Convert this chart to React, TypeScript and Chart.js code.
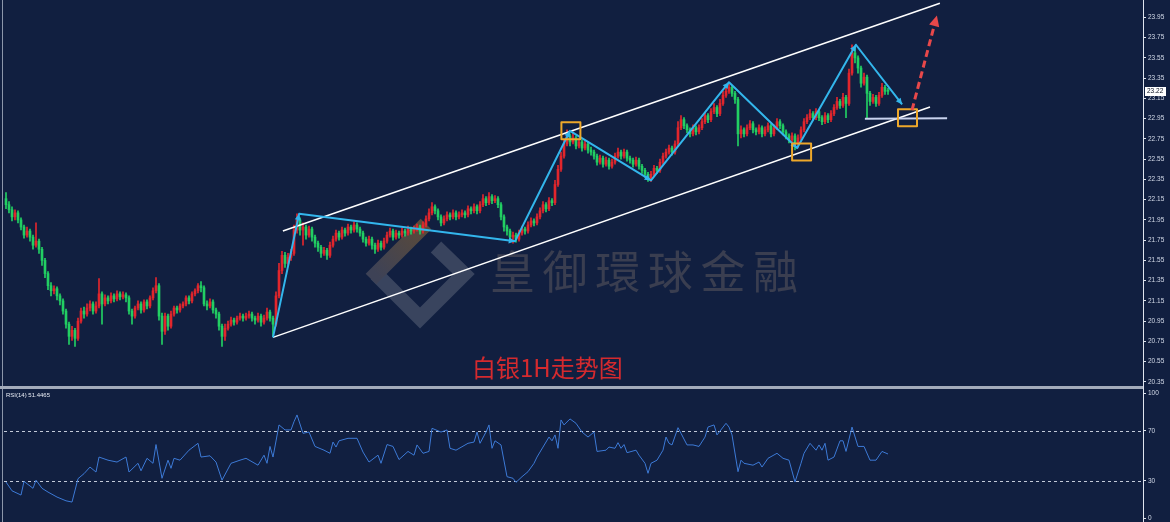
import React, { useEffect, useRef } from 'react';
import { Chart, registerables } from 'chart.js';
Chart.register(...registerables);

// ---------- data ----------
const opens = [
  22.16, 22.10, 22.05, 21.98, 22.02, 21.95, 21.88, 21.80, 21.84, 21.78,
  21.70, 21.74, 21.66, 21.55, 21.42, 21.30, 21.25, 21.27, 21.20, 21.15,
  21.05, 20.92, 20.80, 20.86, 20.78, 20.95, 21.05, 21.02, 21.08, 21.12,
  21.05, 21.10, 21.22, 21.12, 21.18, 21.15, 21.20, 21.17, 21.22, 21.19,
  21.21, 21.18, 21.05, 21.00, 21.08, 21.12, 21.06, 21.14, 21.10, 21.18,
  21.25, 21.30, 21.00, 20.85, 21.00, 20.90, 21.02, 21.08, 21.06, 21.10,
  21.12, 21.18, 21.15, 21.22, 21.25, 21.30, 21.28, 21.12, 21.10, 21.14,
  21.06, 21.02, 20.90, 20.80, 20.88, 20.92, 20.96, 20.94, 20.98, 21.00,
  20.98, 21.00, 21.02, 20.98, 20.96, 21.00, 20.94, 20.98, 21.04, 20.98,
  20.92, 21.20, 21.45, 21.60, 21.52, 21.58, 21.62, 21.85, 21.95, 21.85,
  21.88, 21.80, 21.86, 21.78, 21.72, 21.68, 21.62, 21.65, 21.60, 21.70,
  21.76, 21.82, 21.78, 21.85, 21.82, 21.88, 21.85, 21.90, 21.86, 21.82,
  21.76, 21.72, 21.76, 21.70, 21.66, 21.72, 21.68, 21.74, 21.80, 21.84,
  21.78, 21.82, 21.80, 21.84, 21.82, 21.86, 21.84, 21.86, 21.88, 21.84,
  21.90, 21.96, 22.02, 22.08, 22.04, 21.98, 21.92, 21.96, 22.00, 21.98,
  22.02, 21.98, 22.00, 22.02, 22.00, 22.06, 22.04, 22.08, 22.04, 22.10,
  22.16, 22.12, 22.18, 22.14, 22.16, 22.10, 21.98, 21.88, 21.84, 21.78,
  21.80, 21.76, 21.82, 21.86, 21.84, 21.90, 21.94, 21.92, 21.98, 22.04,
  22.10, 22.06, 22.14, 22.12, 22.30, 22.45, 22.58, 22.70, 22.78, 22.72,
  22.76, 22.68, 22.72, 22.66, 22.70, 22.64, 22.62, 22.58, 22.52, 22.56,
  22.50, 22.54, 22.48, 22.52, 22.58, 22.62, 22.58, 22.62, 22.56, 22.54,
  22.50, 22.54, 22.48, 22.44, 22.40, 22.36, 22.40, 22.46, 22.44, 22.52,
  22.58, 22.62, 22.66, 22.62, 22.70, 22.86, 22.94, 22.88, 22.84, 22.80,
  22.86, 22.82, 22.86, 22.92, 22.98, 22.94, 23.02, 23.06, 23.00, 23.10,
  23.18, 23.22, 23.26, 23.20, 23.14, 22.80, 22.84, 22.80, 22.86, 22.90,
  22.84, 22.82, 22.86, 22.80, 22.84, 22.88, 22.80, 22.86, 22.92, 22.88,
  22.82, 22.78, 22.74, 22.78, 22.70, 22.76, 22.84, 22.92, 22.96, 23.00,
  22.96, 23.02, 22.96, 22.92, 22.98, 22.94, 23.00, 23.06, 23.12, 23.08,
  23.16, 23.10, 23.40, 23.60, 23.55, 23.45, 23.30, 23.36, 23.20, 23.12,
  23.16, 23.10, 23.18, 23.26, 23.22,
];
const closes = [
  22.10, 22.05, 21.98, 22.02, 21.95, 21.88, 21.80, 21.84, 21.78, 21.70,
  21.74, 21.66, 21.55, 21.42, 21.30, 21.25, 21.27, 21.20, 21.15, 21.05,
  20.92, 20.80, 20.86, 20.78, 20.95, 21.05, 21.02, 21.08, 21.12, 21.05,
  21.10, 21.22, 21.12, 21.18, 21.15, 21.20, 21.17, 21.22, 21.19, 21.21,
  21.18, 21.05, 21.00, 21.08, 21.12, 21.06, 21.14, 21.10, 21.18, 21.25,
  21.30, 21.00, 20.85, 21.00, 20.90, 21.02, 21.08, 21.06, 21.10, 21.12,
  21.18, 21.15, 21.22, 21.25, 21.30, 21.28, 21.12, 21.10, 21.14, 21.06,
  21.02, 20.90, 20.80, 20.88, 20.92, 20.96, 20.94, 20.98, 21.00, 20.98,
  21.00, 21.02, 20.98, 20.96, 21.00, 20.94, 20.98, 21.04, 20.98, 20.92,
  21.20, 21.45, 21.60, 21.52, 21.58, 21.62, 21.85, 21.95, 21.85, 21.88,
  21.80, 21.86, 21.78, 21.72, 21.68, 21.62, 21.65, 21.60, 21.70, 21.76,
  21.82, 21.78, 21.85, 21.82, 21.88, 21.85, 21.90, 21.86, 21.82, 21.76,
  21.72, 21.76, 21.70, 21.66, 21.72, 21.68, 21.74, 21.80, 21.84, 21.78,
  21.82, 21.80, 21.84, 21.82, 21.86, 21.84, 21.86, 21.88, 21.84, 21.90,
  21.96, 22.02, 22.08, 22.04, 21.98, 21.92, 21.96, 22.00, 21.98, 22.02,
  21.98, 22.00, 22.02, 22.00, 22.06, 22.04, 22.08, 22.04, 22.10, 22.16,
  22.12, 22.18, 22.14, 22.16, 22.10, 21.98, 21.88, 21.84, 21.78, 21.80,
  21.76, 21.82, 21.86, 21.84, 21.90, 21.94, 21.92, 21.98, 22.04, 22.10,
  22.06, 22.14, 22.12, 22.30, 22.45, 22.58, 22.70, 22.78, 22.72, 22.76,
  22.68, 22.72, 22.66, 22.70, 22.64, 22.62, 22.58, 22.52, 22.56, 22.50,
  22.54, 22.48, 22.52, 22.58, 22.62, 22.58, 22.62, 22.56, 22.54, 22.50,
  22.54, 22.48, 22.44, 22.40, 22.36, 22.40, 22.46, 22.44, 22.52, 22.58,
  22.62, 22.66, 22.62, 22.70, 22.86, 22.94, 22.88, 22.84, 22.80, 22.86,
  22.82, 22.86, 22.92, 22.98, 22.94, 23.02, 23.06, 23.00, 23.10, 23.18,
  23.22, 23.26, 23.20, 23.14, 22.80, 22.84, 22.80, 22.86, 22.90, 22.84,
  22.82, 22.86, 22.80, 22.84, 22.88, 22.80, 22.86, 22.92, 22.88, 22.82,
  22.78, 22.74, 22.78, 22.70, 22.76, 22.84, 22.92, 22.96, 23.00, 22.96,
  23.02, 22.96, 22.92, 22.98, 22.94, 23.00, 23.06, 23.12, 23.08, 23.16,
  23.10, 23.40, 23.60, 23.55, 23.45, 23.30, 23.36, 23.20, 23.12, 23.16,
  23.10, 23.18, 23.26, 23.22, 23.22,
];
const highs = [
  22.22, 22.13, 22.08, 22.05, 22.04, 21.97, 21.90, 21.88, 21.86, 21.80,
  21.92, 21.76, 21.68, 21.57, 21.44, 21.33, 21.30, 21.29, 21.22, 21.17,
  21.07, 20.94, 20.90, 20.88, 20.98, 21.08, 21.09, 21.12, 21.15, 21.14,
  21.14, 21.37, 21.24, 21.21, 21.20, 21.23, 21.22, 21.25, 21.24, 21.24,
  21.23, 21.20, 21.07, 21.10, 21.15, 21.14, 21.16, 21.16, 21.20, 21.28,
  21.38, 21.32, 21.03, 21.03, 21.02, 21.05, 21.10, 21.10, 21.12, 21.14,
  21.20, 21.20, 21.24, 21.27, 21.32, 21.34, 21.30, 21.15, 21.17, 21.16,
  21.08, 21.04, 20.92, 20.92, 20.95, 20.99, 20.98, 21.00, 21.03, 21.02,
  21.03, 21.05, 21.04, 21.00, 21.03, 21.02, 21.01, 21.08, 21.06, 21.00,
  21.24, 21.52, 21.64, 21.63, 21.62, 21.66, 21.90, 22.01, 21.97, 21.92,
  21.90, 21.89, 21.88, 21.80, 21.74, 21.70, 21.68, 21.67, 21.73, 21.79,
  21.85, 21.84, 21.88, 21.87, 21.91, 21.90, 21.93, 21.92, 21.88, 21.84,
  21.78, 21.79, 21.78, 21.72, 21.75, 21.74, 21.77, 21.83, 21.87, 21.86,
  21.85, 21.84, 21.87, 21.86, 21.89, 21.88, 21.89, 21.91, 21.90, 21.93,
  21.99, 22.06, 22.12, 22.10, 22.06, 22.00, 21.99, 22.03, 22.02, 22.05,
  22.04, 22.03, 22.05, 22.04, 22.09, 22.08, 22.11, 22.10, 22.13, 22.20,
  22.18, 22.22, 22.20, 22.19, 22.18, 22.12, 22.00, 21.90, 21.86, 21.83,
  21.82, 21.85, 21.89, 21.88, 21.93, 21.97, 21.96, 22.01, 22.07, 22.13,
  22.12, 22.17, 22.16, 22.34, 22.49, 22.62, 22.74, 22.84, 22.80, 22.82,
  22.78, 22.75, 22.74, 22.73, 22.72, 22.67, 22.64, 22.60, 22.59, 22.58,
  22.57, 22.56, 22.55, 22.61, 22.66, 22.64, 22.65, 22.64, 22.58, 22.56,
  22.57, 22.56, 22.50, 22.46, 22.42, 22.43, 22.49, 22.48, 22.55, 22.61,
  22.65, 22.69, 22.68, 22.73, 22.92, 22.98, 22.96, 22.90, 22.86, 22.89,
  22.88, 22.89, 22.95, 23.01, 23.00, 23.05, 23.10, 23.08, 23.14, 23.22,
  23.26, 23.31, 23.28, 23.22, 23.16, 22.88, 22.86, 22.89, 22.93, 22.92,
  22.86, 22.89, 22.88, 22.87, 22.91, 22.90, 22.89, 22.95, 22.94, 22.90,
  22.84, 22.80, 22.81, 22.80, 22.79, 22.87, 22.95, 22.99, 23.04, 23.02,
  23.05, 23.04, 22.98, 23.01, 23.00, 23.03, 23.09, 23.16, 23.14, 23.20,
  23.18, 23.44, 23.68, 23.66, 23.57, 23.47, 23.40, 23.38, 23.22, 23.19,
  23.18, 23.21, 23.30, 23.28, 23.25,
];
const lows = [
  22.06, 22.02, 21.94, 21.95, 21.92, 21.85, 21.77, 21.78, 21.74, 21.66,
  21.68, 21.62, 21.50, 21.38, 21.26, 21.20, 21.22, 21.16, 21.11, 21.02,
  20.88, 20.72, 20.76, 20.70, 20.76, 20.93, 20.98, 21.00, 21.05, 21.02,
  21.03, 21.08, 20.92, 21.10, 21.12, 21.13, 21.14, 21.15, 21.16, 21.17,
  21.14, 21.02, 20.92, 20.98, 21.06, 21.03, 21.04, 21.07, 21.08, 21.16,
  21.23, 20.96, 20.72, 20.82, 20.86, 20.88, 21.00, 21.03, 21.04, 21.08,
  21.10, 21.12, 21.13, 21.20, 21.23, 21.24, 21.10, 21.06, 21.08, 21.03,
  20.98, 20.86, 20.70, 20.76, 20.86, 20.90, 20.91, 20.92, 20.96, 20.95,
  20.96, 20.98, 20.95, 20.92, 20.94, 20.90, 20.92, 20.96, 20.95, 20.80,
  20.90, 21.18, 21.42, 21.48, 21.50, 21.55, 21.60, 21.82, 21.80, 21.70,
  21.76, 21.78, 21.74, 21.68, 21.64, 21.58, 21.60, 21.56, 21.58, 21.68,
  21.74, 21.75, 21.76, 21.79, 21.80, 21.82, 21.83, 21.83, 21.79, 21.73,
  21.69, 21.70, 21.66, 21.62, 21.64, 21.65, 21.66, 21.72, 21.78, 21.75,
  21.76, 21.77, 21.78, 21.79, 21.80, 21.81, 21.82, 21.84, 21.81, 21.82,
  21.88, 21.94, 22.00, 22.01, 21.95, 21.89, 21.90, 21.94, 21.95, 21.96,
  21.95, 21.96, 21.98, 21.97, 21.98, 22.01, 22.02, 22.01, 22.02, 22.08,
  22.09, 22.10, 22.11, 22.12, 22.07, 21.95, 21.84, 21.80, 21.74, 21.72,
  21.73, 21.74, 21.80, 21.81, 21.82, 21.88, 21.89, 21.90, 21.96, 22.02,
  22.03, 22.04, 22.09, 22.10, 22.28, 22.43, 22.56, 22.68, 22.68, 22.70,
  22.65, 22.66, 22.63, 22.64, 22.61, 22.59, 22.55, 22.49, 22.50, 22.47,
  22.48, 22.45, 22.46, 22.50, 22.56, 22.55, 22.56, 22.53, 22.51, 22.47,
  22.48, 22.45, 22.41, 22.37, 22.33, 22.33, 22.38, 22.41, 22.42, 22.50,
  22.56, 22.60, 22.59, 22.60, 22.68, 22.84, 22.85, 22.81, 22.77, 22.78,
  22.79, 22.80, 22.84, 22.90, 22.91, 22.92, 23.00, 22.97, 22.98, 23.08,
  23.16, 23.20, 23.17, 23.10, 22.68, 22.76, 22.77, 22.78, 22.84, 22.81,
  22.79, 22.80, 22.77, 22.78, 22.82, 22.77, 22.78, 22.84, 22.85, 22.79,
  22.75, 22.71, 22.72, 22.64, 22.66, 22.74, 22.82, 22.90, 22.94, 22.93,
  22.94, 22.93, 22.89, 22.90, 22.91, 22.92, 22.98, 23.04, 23.05, 23.06,
  22.96, 23.08, 23.38, 23.50, 23.40, 23.26, 23.28, 22.95, 23.08, 23.10,
  23.07, 23.08, 23.16, 23.19, 23.19,
];

const rsiIndex = [
  0, 2, 5, 6, 9, 10, 12, 14, 17, 20,
  22, 24, 26, 28, 30, 31, 34, 37, 40, 41,
  44, 45, 47, 49, 50, 52, 54, 55, 56, 58,
  61, 64, 65, 68, 70, 72, 75, 78, 80, 84,
  86, 87, 88, 89, 91, 93, 95, 96, 97, 99,
  101, 103, 106, 108, 109, 110, 111, 114, 117, 119,
  121, 124, 125, 127, 129, 131, 134, 136, 137, 139,
  141, 142, 145, 147, 148, 150, 154, 156, 157, 158,
  160, 161, 162, 163, 165, 167, 169, 170, 172, 174,
  176, 177, 179, 181, 182, 183, 184, 185, 186, 188,
  190, 192, 194, 196, 197, 200, 201, 203, 204, 205,
  206, 207, 210, 211, 213, 214, 215, 217, 219, 220,
  221, 222, 224, 225, 227, 229, 231, 233, 234, 236,
  237, 240, 241, 242, 244, 245, 246, 249, 251, 252,
  254, 257, 259, 261, 263, 265, 266, 268, 270, 271,
  272, 273, 274, 276, 278, 279, 280, 282, 284, 286,
  288, 290, 292, 294,
];
const rsiValues = [
  29, 22, 18.6, 29.5, 24, 30.5, 24, 21, 17, 14,
  13, 31.7, 35.7, 41, 37, 49, 46.5, 45, 49, 37,
  44, 38, 48, 44, 59, 32, 46.5, 40, 48, 46.5,
  54.5, 60, 49, 50, 45, 30.5, 44, 46.5, 48, 42.5,
  50.5, 44, 57.5, 49, 74.7, 70.7, 70.7, 77.3, 82.7, 68,
  69, 57.5, 54.5, 52, 61, 57, 62, 64, 64, 53,
  45, 50.5, 44, 59, 57.5, 47, 53.5, 50.5, 58.7, 52,
  53.5, 72, 69, 70.7, 56, 54.5, 60, 61, 69, 60,
  69, 74.7, 56, 62, 58.7, 33.3, 32, 28.8, 33.3, 37.3,
  44, 49, 57, 65, 62, 66.7, 56, 78.7, 74.7, 79.5,
  76, 69, 65, 69, 53.5, 54.5, 57, 56, 60.5, 56,
  59, 52.5, 54.5, 50.5, 44, 36, 44, 46.5, 54.5, 65,
  60, 58.7, 72.5, 68, 58.7, 58.7, 57.5, 65, 73, 74.7,
  66.7, 76, 73, 66.7, 37.3, 46.5, 44, 42.5, 45, 41,
  48, 52, 48, 46.5, 29, 44, 52, 60, 54.5, 58.7,
  54.5, 60, 46.5, 49, 62, 62, 53.5, 73, 57.5, 57.5,
  46.5, 46.5, 53.5, 51.4465,
];

const priceTicks = [20.35, 20.55, 20.75, 20.95, 21.15, 21.35, 21.55, 21.75, 21.95, 22.15,
  22.35, 22.55, 22.75, 22.95, 23.15, 23.35, 23.55, 23.75, 23.95];
const rsiTicks = [0, 30, 70, 100];
const rsiLevels = [30, 70];

// annotation anchors in (candle index, price)
const channelUpper = [[92.3, 21.84], [311.3, 24.09]];
const channelLower = [[89, 20.79], [308, 23.065]];
const waveLine = [[89, 20.79], [97.7, 22.01], [169.7, 21.74], [188, 22.83], [215, 22.34],
  [241, 23.31], [263.7, 22.66], [283.3, 23.68], [298.7, 23.09]];
const markerBoxes = [[188.3, 22.83], [265.2, 22.62], [300.5, 22.96]];
const supportLine = [[286.3, 22.95], [313.7, 22.955]];
const breakoutArrow = [[302, 23.035], [310.3, 23.97]];

const titleText = '白银1H走势图';
const watermarkText = '皇御環球金融';

// ---------- styles ----------
const BG = '#111f40';
const UP = '#e2262c';
const DOWN = '#22cf63';
const AXIS = '#dfe4ee';
const LABEL = '#d3dae8';
const X_MIN = -2;
const X_MAX = 379;
const P_MIN = 20.3096;
const P_MAX = 24.1219;
const R_MIN = -2.96;
const R_MAX = 103.44;

function arrowHead(ctx: CanvasRenderingContext2D, x1: number, y1: number, x2: number, y2: number, size: number, color: string) {
  const a = Math.atan2(y2 - y1, x2 - x1);
  ctx.beginPath();
  ctx.moveTo(x2, y2);
  ctx.lineTo(x2 - size * Math.cos(a - 0.45), y2 - size * Math.sin(a - 0.45));
  ctx.lineTo(x2 - size * Math.cos(a + 0.45), y2 - size * Math.sin(a + 0.45));
  ctx.closePath();
  ctx.fillStyle = color;
  ctx.fill();
}

const candleColor = (ctx: any) => {
  const i = ctx.dataIndex;
  return closes[i] > opens[i] ? UP : DOWN;
};

const axisY = (min: number, max: number, ticks: number[], digits: number) => ({
  position: 'right' as const,
  min,
  max,
  afterBuildTicks: (s: any) => { s.ticks = ticks.map((v) => ({ value: v })); },
  afterFit: (s: any) => { s.width = 27; s.paddingTop = 0; s.paddingBottom = 0; },
  grid: { drawOnChartArea: false, color: AXIS, tickLength: 3 },
  border: { color: AXIS, width: 1 },
  ticks: {
    color: LABEL,
    font: { size: 6.5, family: 'Liberation Sans' },
    padding: 2,
    autoSkip: false,
    maxRotation: 0,
    callback: (v: any) => Number(v).toFixed(digits),
  },
});

const mainDecor = {
  id: 'mainDecor',
  beforeDatasetsDraw(chart: any) {
    const ctx = chart.ctx as CanvasRenderingContext2D;
    ctx.save();
    // watermark logo
    ctx.lineWidth = 15;
    ctx.lineJoin = 'miter';
    ctx.lineCap = 'butt';
    ctx.strokeStyle = '#39445e';
    ctx.beginPath();
    ctx.moveTo(376, 274); ctx.lineTo(420, 318); ctx.lineTo(464, 274); ctx.lineTo(436, 247);
    ctx.stroke();
    const g = ctx.createLinearGradient(376, 274, 426, 224);
    g.addColorStop(0, '#3e4256');
    g.addColorStop(1, '#5b4a38');
    ctx.strokeStyle = g;
    ctx.beginPath();
    ctx.moveTo(371, 279); ctx.lineTo(426, 224);
    ctx.stroke();
    // watermark text
    ctx.font = '45px "Noto Sans CJK TC"';
    ctx.fillStyle = '#3a3e50';
    ctx.textBaseline = 'middle';
    ctx.textAlign = 'left';
    Array.from(watermarkText).forEach((ch, k) => ctx.fillText(ch, 490 + 52.6 * k, 272));
    // left frame
    ctx.fillStyle = '#8c96aa';
    ctx.fillRect(2, 0, 1, chart.height);
    ctx.restore();
  },
  afterDatasetsDraw(chart: any) {
    const ctx = chart.ctx as CanvasRenderingContext2D;
    const xs = chart.scales.x, ys = chart.scales.y;
    const P = (p: number[]) => [xs.getPixelForValue(p[0]), ys.getPixelForValue(p[1])];
    ctx.save();
    // channel
    ctx.strokeStyle = '#ffffff';
    ctx.lineWidth = 1.5;
    [channelUpper, channelLower].forEach((ln) => {
      const a = P(ln[0]), b = P(ln[1]);
      ctx.beginPath(); ctx.moveTo(a[0], a[1]); ctx.lineTo(b[0], b[1]); ctx.stroke();
    });
    // support line
    {
      const a = P(supportLine[0]), b = P(supportLine[1]);
      ctx.strokeStyle = '#c9d3ee';
      ctx.lineWidth = 2;
      ctx.beginPath(); ctx.moveTo(a[0], a[1]); ctx.lineTo(b[0], b[1]); ctx.stroke();
    }
    // wave line
    const BLUE = '#33b6ec';
    ctx.strokeStyle = BLUE;
    ctx.lineWidth = 2;
    ctx.lineJoin = 'round';
    const pts = waveLine.map(P);
    ctx.beginPath();
    pts.forEach((p, k) => (k ? ctx.lineTo(p[0], p[1]) : ctx.moveTo(p[0], p[1])));
    ctx.stroke();
    for (let k = 1; k < pts.length; k++) {
      arrowHead(ctx, pts[k - 1][0], pts[k - 1][1], pts[k][0], pts[k][1], 7, BLUE);
    }
    // boxes
    ctx.strokeStyle = '#eea82a';
    ctx.lineWidth = 2;
    markerBoxes.forEach((m) => {
      const c = P(m);
      ctx.strokeRect(c[0] - 9.5, c[1] - 8.5, 19, 17);
    });
    // breakout arrow
    {
      const a = P(breakoutArrow[0]), b = P(breakoutArrow[1]);
      const ang = Math.atan2(b[1] - a[1], b[0] - a[0]);
      const stopX = b[0] - 9 * Math.cos(ang), stopY = b[1] - 9 * Math.sin(ang);
      ctx.strokeStyle = '#e8484a';
      ctx.lineWidth = 3;
      ctx.setLineDash([7, 4]);
      ctx.beginPath(); ctx.moveTo(a[0], a[1]); ctx.lineTo(stopX, stopY); ctx.stroke();
      ctx.setLineDash([]);
      arrowHead(ctx, a[0], a[1], b[0], b[1], 12, '#e8484a');
    }
    // title
    ctx.font = '24px "Noto Sans CJK SC"';
    ctx.fillStyle = '#d52a2e';
    ctx.textBaseline = 'middle';
    ctx.textAlign = 'left';
    ctx.fillText(titleText, 472, 368);
    ctx.restore();
  },
  afterDraw(chart: any) {
    const ctx = chart.ctx as CanvasRenderingContext2D;
    const ys = chart.scales.y;
    const last = closes[closes.length - 1];
    const y = ys.getPixelForValue(last);
    ctx.save();
    ctx.fillStyle = '#ffffff';
    ctx.fillRect(1145, Math.round(y) - 4, 21, 9);
    ctx.fillStyle = '#0a1020';
    ctx.font = '6.5px "Liberation Sans"';
    ctx.textBaseline = 'middle';
    ctx.textAlign = 'left';
    ctx.fillText(last.toFixed(2), 1147, Math.round(y) + 0.5);
    ctx.restore();
  },
};

const rsiDecor = {
  id: 'rsiDecor',
  beforeDatasetsDraw(chart: any) {
    const ctx = chart.ctx as CanvasRenderingContext2D;
    const ys = chart.scales.y;
    const area = chart.chartArea;
    ctx.save();
    ctx.strokeStyle = '#c3cad9';
    ctx.lineWidth = 1;
    ctx.setLineDash([3, 3]);
    rsiLevels.forEach((v) => {
      const y = Math.round(ys.getPixelForValue(v)) + 0.5;
      ctx.beginPath(); ctx.moveTo(area.left + 4, y); ctx.lineTo(area.right, y); ctx.stroke();
    });
    ctx.setLineDash([]);
    ctx.fillStyle = '#8c96aa';
    ctx.fillRect(2, 0, 1, chart.height);
    ctx.fillStyle = '#e8ecf4';
    ctx.font = '6px "Liberation Sans"';
    ctx.textBaseline = 'middle';
    ctx.textAlign = 'left';
    ctx.fillText(`RSI(14) ${rsiValues[rsiValues.length - 1]}`, 6, 6);
    ctx.restore();
  },
};

export default function App() {
  const mainRef = useRef<HTMLCanvasElement>(null);
  const rsiRef = useRef<HTMLCanvasElement>(null);

  useEffect(() => {
    document.body.style.margin = '0';
    const main = new Chart(mainRef.current!, {
      type: 'bar',
      data: {
        datasets: [
          {
            label: 'wick',
            data: highs.map((h, i) => ({ x: i, y: [lows[i], h] })) as any,
            backgroundColor: candleColor as any,
            barThickness: 1,
            grouped: false,
            order: 2,
          } as any,
          {
            label: 'body',
            data: opens.map((o, i) => ({ x: i, y: [Math.min(o, closes[i]), Math.max(o, closes[i])] })) as any,
            backgroundColor: candleColor as any,
            barThickness: 2,
            minBarLength: 1,
            grouped: false,
            order: 1,
          } as any,
        ],
      },
      options: {
        responsive: false,
        animation: false,
        layout: { padding: 0 },
        plugins: { legend: { display: false }, tooltip: { enabled: false } },
        scales: {
          x: { type: 'linear', min: X_MIN, max: X_MAX, display: false, offset: false },
          y: axisY(P_MIN, P_MAX, priceTicks, 2) as any,
        },
      },
      plugins: [mainDecor],
    });

    const rsi = new Chart(rsiRef.current!, {
      type: 'line',
      data: {
        datasets: [
          {
            label: 'RSI(14)',
            data: rsiIndex.map((x, k) => ({ x, y: rsiValues[k] })),
            borderColor: '#3d7ad6',
            borderWidth: 1,
            pointRadius: 0,
            tension: 0,
            fill: false,
          },
        ],
      },
      options: {
        responsive: false,
        animation: false,
        layout: { padding: 0 },
        plugins: { legend: { display: false }, tooltip: { enabled: false } },
        scales: {
          x: { type: 'linear', min: X_MIN, max: X_MAX, display: false },
          y: axisY(R_MIN, R_MAX, rsiTicks, 0) as any,
        },
      },
      plugins: [rsiDecor],
    });

    return () => {
      main.destroy();
      rsi.destroy();
    };
  }, []);

  return (
    <div style={{ position: 'fixed', left: 0, top: 0, width: 1170, height: 522, background: BG, overflow: 'hidden' }}>
      <canvas ref={mainRef} width={1170} height={386} style={{ position: 'absolute', left: 0, top: 0 }} />
      <div style={{ position: 'absolute', left: 0, top: 386, width: 1143, height: 3, background: '#a3abbb' }} />
      <div style={{ position: 'absolute', left: 1143, top: 386, width: 1, height: 3, background: AXIS }} />
      <canvas ref={rsiRef} width={1170} height={133} style={{ position: 'absolute', left: 0, top: 389 }} />
    </div>
  );
}
